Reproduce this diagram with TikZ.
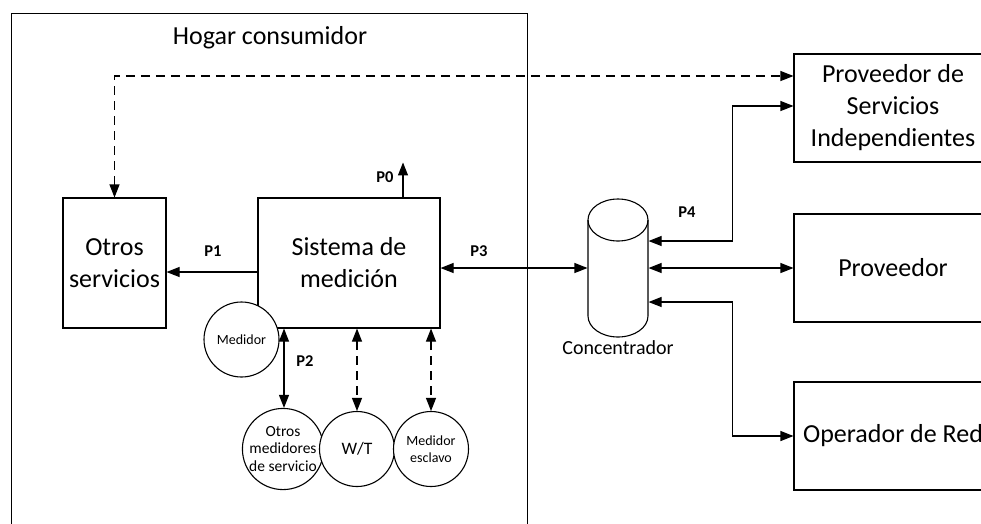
\documentclass[tikz,border=0pt]{standalone}
\usepackage{fontspec}
\setmainfont{Carlito}
\usetikzlibrary{arrows.meta}
\begin{document}
\begin{tikzpicture}[x=1pt,y=-1pt,line width=1.1pt,
  box/.style={draw,fill=white,inner sep=0pt,align=center,font=\fontsize{26}{32}\selectfont},
  circ/.style={draw,circle,fill=white,minimum size=75pt,inner sep=0pt,align=center,font=\fontsize{14}{17.5}\selectfont},
  lbl/.style={font=\fontsize{16.5}{20}\selectfont\bfseries},
  tip/.style={-{Triangle[length=13pt,width=10pt]}},
  dbl/.style={{Triangle[length=13pt,width=10pt]}-{Triangle[length=13pt,width=10pt]}},
  dsh/.style={dash pattern=on 9pt off 6pt}]
\useasboundingbox (0,0) rectangle (981,523);
\clip (0,0) rectangle (981,523);
% outer box
\node[draw,minimum width=516pt,minimum height=540pt,inner sep=0pt,anchor=north west] (hogar) at (11,13) {};
\node[anchor=base,font=\fontsize{26}{32}\selectfont] (title) at (270,44) {Hogar consumidor};
% boxes
\node[box,minimum width=103pt,minimum height=130pt] (otros) at (114.5,263) {Otros\\servicios};
\node[box,minimum width=182pt,minimum height=130pt] (sis) at (349,263) {Sistema de\\medición};
\node[box,minimum width=198pt,minimum height=108pt] (psi) at (893,108) {Proveedor de\\Servicios\\Independientes};
\node[box,minimum width=198pt,minimum height=108pt] (prov) at (893,268) {Proveedor};
\node[box,minimum width=198pt,minimum height=108pt] (oper) at (893,436) {Operador de Red};
% circles
\node[circ] (med) at (241.5,339.5) {Medidor};
\node[circ,font=\fontsize{15.5}{17.5}\selectfont] (otrosmed) at (283,449) {Otros\\medidores\\de servicio};
\node[circ,font=\fontsize{17.5}{20}\selectfont] (wt) at (357,449) {W/T};
\node[circ] (escl) at (431,449) {Medidor\\esclavo};
% concentrator
\node[minimum width=60pt,minimum height=138pt,inner sep=0pt] (conc) at (618,268) {};
\draw[fill=white] (588,220) -- (588,316) arc[start angle=180,end angle=360,x radius=30pt,y radius=21pt] -- (648,220);
\draw (618,220) ellipse[x radius=30pt,y radius=21pt];
\node[font=\fontsize{20}{24}\selectfont] (conclbl) at (618,348) {Concentrador};
% connectors
\draw[dsh,dbl] (otros.north) |- ([yshift=32pt]psi.west);
\draw[tip] ([yshift=-9pt]sis.west) -- ([yshift=-9pt]otros.east);
\draw[tip] ([xshift=54pt]sis.north) -- ++(0,-35);
\draw[dbl] (sis.east |- conc.west) -- (conc.west);
\draw[dbl] (conc.east) -- (conc.east -| prov.west);
\draw[dbl] ([yshift=27pt]conc.east) -- ++(84,0) |- ([yshift=2pt]psi.west);
\draw[dbl] ([yshift=-34pt]conc.east) -- ++(84,0) |- (oper.west);
\draw[dbl] (sis.south -| 284,0) -- (otrosmed.north -| 284,0);
\draw[dbl,dsh] (wt.north |- sis.south) -- (wt.north);
\draw[dbl,dsh] (escl.north |- sis.south) -- (escl.north);
% labels
\node[lbl] (p0) at (385,177) {P0};
\node[lbl] (p1) at (213,251) {P1};
\node[lbl] (p2) at (305,361) {P2};
\node[lbl] (p3) at (479,251) {P3};
\node[lbl] (p4) at (687,212) {P4};
\end{tikzpicture}
\end{document}
